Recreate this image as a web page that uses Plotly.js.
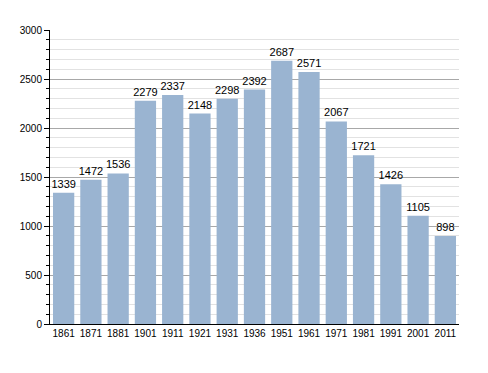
<!DOCTYPE html>
<html><head><meta charset="utf-8">
<script src="https://cdn.plot.ly/plotly-3.0.1.min.js"></script>
<style>html,body{margin:0;padding:0;background:#fff}#c{width:488px;height:373px}</style>
</head><body><div id="c"></div>
<script>
var years = ["1861","1871","1881","1901","1911","1921","1931","1936","1951","1961","1971","1981","1991","2001","2011"];
var population = [1339,1472,1536,2279,2337,2148,2298,2392,2687,2571,2067,1721,1426,1105,898];

Plotly.newPlot('c', [{
  type: 'bar',
  x: years,
  y: population,
  text: population.map(String),
  textposition: 'outside',
  constraintext: 'none',
  cliponaxis: false,
  textfont: {family: 'Liberation Sans, Arial, sans-serif', size: 11, color: '#000'},
  marker: {color: '#9ab4d1'},
  hoverinfo: 'none'
}], {
  width: 488, height: 373,
  margin: {l: 50, r: 29, t: 30, b: 49},
  paper_bgcolor: '#fff', plot_bgcolor: '#fff',
  bargap: 0.22,
  showlegend: false,
  font: {family: 'Liberation Sans, Arial, sans-serif', size: 10, color: '#000'},
  xaxis: {
    type: 'category',
    showline: true, linecolor: '#000', linewidth: 1,
    ticks: '', showgrid: false,
    tickfont: {size: 10}
  },
  yaxis: {
    range: [0, 3000],
    dtick: 500, tick0: 0,
    showline: true, linecolor: '#000', linewidth: 1,
    ticks: 'outside', ticklen: 5, tickcolor: '#000',
    gridcolor: '#a8a8a8', gridwidth: 1,
    zeroline: false,
    tickfont: {size: 10},
    minor: {dtick: 100, showgrid: true, gridcolor: '#e2e2e2', ticks: 'outside', ticklen: 3, tickcolor: '#000'}
  }
}, {staticPlot: true});
</script>
</body></html>
